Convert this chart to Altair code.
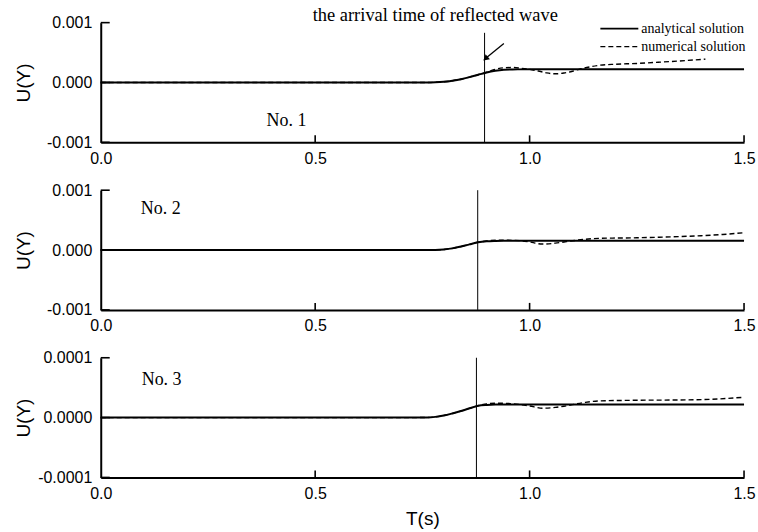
import altair as alt
import pandas as pd

# ---------------- data ----------------
# Panel No.1  (U values in units of 1e-4)
p1_ana_T = [0.0, 0.70, 0.76, 0.78, 0.80, 0.82, 0.84, 0.86, 0.88, 0.90, 0.92, 0.94, 0.96, 1.0, 1.5]
p1_ana_U = [0.0, 0.0, 0.0, 0.03, 0.12, 0.30, 0.55, 0.90, 1.30, 1.68, 1.95, 2.12, 2.18, 2.20, 2.20]
p1_num_T = [0.0, 0.76, 0.78, 0.80, 0.82, 0.84, 0.86, 0.88, 0.90, 0.92, 0.94, 0.96, 0.98, 1.00,
            1.02, 1.04, 1.06, 1.08, 1.10, 1.115, 1.14, 1.16, 1.20, 1.25, 1.30, 1.35, 1.41]
p1_num_U = [0.0, 0.0, 0.03, 0.12, 0.30, 0.55, 0.90, 1.30, 1.72, 2.20, 2.45, 2.50, 2.38, 2.20,
            1.92, 1.60, 1.45, 1.58, 1.88, 2.20, 2.60, 2.85, 3.05, 3.18, 3.38, 3.60, 3.90]

# Panel No.2  (U values in units of 1e-4)
p2_ana_T = [0.0, 0.74, 0.78, 0.80, 0.82, 0.84, 0.86, 0.88, 0.90, 0.92, 0.94, 1.0, 1.5]
p2_ana_U = [0.0, 0.0, 0.02, 0.10, 0.28, 0.58, 0.95, 1.30, 1.47, 1.53, 1.55, 1.55, 1.55]
p2_num_T = [0.0, 0.74, 0.78, 0.80, 0.82, 0.84, 0.86, 0.88, 0.90, 0.93, 0.96, 0.98, 1.00,
            1.03, 1.06, 1.08, 1.10, 1.13, 1.16, 1.25, 1.35, 1.40, 1.45, 1.50]
p2_num_U = [0.0, 0.0, 0.02, 0.10, 0.28, 0.58, 0.95, 1.30, 1.52, 1.65, 1.62, 1.55, 1.35,
            1.00, 1.15, 1.35, 1.55, 1.80, 1.95, 2.05, 2.25, 2.40, 2.60, 2.90]

# Panel No.3  (U values in units of 1e-5)
p3_ana_T = [0.0, 0.72, 0.76, 0.78, 0.80, 0.82, 0.84, 0.86, 0.88, 0.90, 0.92, 1.0, 1.5]
p3_ana_U = [0.0, 0.0, 0.02, 0.12, 0.35, 0.70, 1.10, 1.55, 1.98, 2.12, 2.17, 2.17, 2.17]
p3_num_T = [0.0, 0.72, 0.76, 0.78, 0.80, 0.82, 0.84, 0.86, 0.88, 0.90, 0.93, 0.96, 0.98,
            1.00, 1.03, 1.06, 1.08, 1.10, 1.13, 1.16, 1.25, 1.35, 1.42, 1.50]
p3_num_U = [0.0, 0.0, 0.02, 0.12, 0.35, 0.70, 1.10, 1.55, 1.98, 2.30, 2.40, 2.32, 2.17,
            1.95, 1.57, 1.70, 1.90, 2.17, 2.55, 2.78, 2.90, 2.95, 3.05, 3.40]

# arrival time of reflected wave (vertical line) per panel: T, top U (fraction of range)
vline_T = [0.895, 0.879, 0.876]
vline_top = [0.83, 1.0, 1.0]

panel_labels = ["No. 1", "No. 2", "No. 3"]
label_T = [0.433, 0.14, 0.142]
label_U = [-0.65, 0.68, 0.62]          # fraction of the axis range

y_ranges = [0.001, 0.001, 0.0001]
y_formats = [".3f", ".3f", ".4f"]
unit_scale = [1e-4, 1e-4, 1e-5]

x_ticks = [0.5, 1.0, 1.5]
x_labels = [0.0, 0.5, 1.0, 1.5]

annot_text = "the arrival time of reflected wave"
legend_names = ["analytical solution", "numerical solution"]

W, H = 645, 120
SANS = "Liberation Sans"
SERIF = "Liberation Serif"


def panel(i, ana_T, ana_U, num_T, num_U, show_xtitle):
    r = y_ranges[i]
    s = unit_scale[i]
    fmt = y_formats[i]
    xscale = alt.Scale(domain=[0, 1.5], nice=False, zero=False)
    yscale = alt.Scale(domain=[-r, r], nice=False, zero=False)

    xaxis_kw = dict(values=x_labels, format=".1f", labelFontSize=16, labelFont=SANS,
                    labelColor="black", labelPadding=8, ticks=False, grid=False,
                    domainColor="black", domainWidth=2, labelFlush=False)
    if show_xtitle:
        xaxis_kw.update(title="T(s)", titleFont=SANS, titleFontSize=19,
                        titleFontWeight="normal", titleColor="black", titlePadding=8)
    else:
        xaxis_kw.update(title=None)
    xaxis = alt.Axis(**xaxis_kw)
    lab_expr = ("datum.value < 0 ? '-' + format(-datum.value, '%s') : format(datum.value, '%s')"
                % (fmt, fmt))
    yaxis = alt.Axis(values=[-r, 0, r], labelExpr=lab_expr, labelFontSize=16, labelFont=SANS,
                     labelColor="black", labelPadding=9, ticks=False, grid=False,
                     domainColor="black", domainWidth=2, labelFlush=False,
                     title="U(Y)", titleFont=SANS, titleFontSize=19, titleFontWeight="normal",
                     titleColor="black", titleAngle=270, titleAlign="center",
                     titleBaseline="middle", titleX=-77, titleY=H / 2)

    ana = pd.DataFrame({"T": ana_T, "U": [v * s for v in ana_U]})
    num = pd.DataFrame({"T": num_T, "U": [v * s for v in num_U]})

    base_ana = alt.Chart(ana).mark_line(color="black", strokeWidth=2, interpolate="monotone").encode(
        x=alt.X("T:Q", scale=xscale, axis=xaxis),
        y=alt.Y("U:Q", scale=yscale, axis=yaxis),
    )
    line_num = alt.Chart(num).mark_line(color="black", strokeWidth=1.4, strokeDash=[5, 3],
                                        interpolate="monotone").encode(
        x=alt.X("T:Q", scale=xscale), y=alt.Y("U:Q", scale=yscale))

    vl = pd.DataFrame({"T": [vline_T[i]], "U1": [vline_top[i] * r], "U2": [-r]})
    vrule = alt.Chart(vl).mark_rule(color="black", strokeWidth=1).encode(
        x=alt.X("T:Q", scale=xscale), y=alt.Y("U1:Q", scale=yscale), y2="U2:Q")

    xt = pd.DataFrame({"T": x_ticks})
    xtick = alt.Chart(xt).mark_rule(color="black", strokeWidth=1.6).encode(
        x=alt.X("T:Q", scale=xscale), y=alt.value(H), y2=alt.value(H - 7))
    yt = pd.DataFrame({"U": [-r, 0, r]})
    ytick = alt.Chart(yt).mark_rule(color="black", strokeWidth=1.6).encode(
        y=alt.Y("U:Q", scale=yscale), x=alt.value(0), x2=alt.value(9))

    lab = pd.DataFrame({"T": [label_T[i]], "U": [label_U[i] * r], "txt": [panel_labels[i]]})
    labm = alt.Chart(lab).mark_text(font=SERIF, fontSize=18, color="black", align="center",
                                    baseline="middle").encode(
        x=alt.X("T:Q", scale=xscale), y=alt.Y("U:Q", scale=yscale), text="txt:N")

    layers = [vrule, line_num, base_ana, xtick, ytick, labm]

    if i == 0:
        # annotation text and arrow
        at = pd.DataFrame({"T": [0.78], "U": [1.13 * r], "txt": [annot_text]})
        layers.append(alt.Chart(at).mark_text(font=SERIF, fontSize=18.5, color="black",
                                              align="center", baseline="middle").encode(
            x=alt.X("T:Q", scale=xscale), y=alt.Y("U:Q", scale=yscale), text="txt:N"))
        arr = pd.DataFrame({"T1": [0.94], "U1": [0.65 * r], "T2": [0.897], "U2": [0.40 * r]})
        layers.append(alt.Chart(arr).mark_rule(color="black", strokeWidth=1.3).encode(
            x=alt.X("T1:Q", scale=xscale), y=alt.Y("U1:Q", scale=yscale), x2="T2:Q", y2="U2:Q"))
        head = pd.DataFrame({"T": [0.899], "U": [0.41 * r]})
        layers.append(alt.Chart(head).mark_point(shape="triangle", filled=True, color="black",
                                                 opacity=1, size=45, angle=230).encode(
            x=alt.X("T:Q", scale=xscale), y=alt.Y("U:Q", scale=yscale)))
        # legend
        lg = pd.DataFrame({"T1": [1.165, 1.165], "T2": [1.2535, 1.2535],
                           "U": [0.9 * r, 0.6 * r], "name": legend_names})
        layers.append(alt.Chart(lg.iloc[[0]]).mark_rule(color="black", strokeWidth=2).encode(
            x=alt.X("T1:Q", scale=xscale), x2="T2:Q", y=alt.Y("U:Q", scale=yscale)))
        layers.append(alt.Chart(lg.iloc[[1]]).mark_rule(color="black", strokeWidth=1.4,
                                                       strokeDash=[5, 3]).encode(
            x=alt.X("T1:Q", scale=xscale), x2="T2:Q", y=alt.Y("U:Q", scale=yscale)))
        layers.append(alt.Chart(lg).mark_text(font=SERIF, fontSize=14, color="black",
                                              align="left", baseline="middle", dx=3).encode(
            x=alt.X("T2:Q", scale=xscale), y=alt.Y("U:Q", scale=yscale), text="name:N"))

    return alt.layer(*layers).properties(width=W, height=H)


p1 = panel(0, p1_ana_T, p1_ana_U, p1_num_T, p1_num_U, False)
p2 = panel(1, p2_ana_T, p2_ana_U, p2_num_T, p2_num_U, False)
p3 = panel(2, p3_ana_T, p3_ana_U, p3_num_T, p3_num_U, True)

chart = alt.vconcat(p1, p2, p3, spacing=48, bounds="flush").properties(
    padding={"left": 15, "top": 5, "right": 2, "bottom": 3},
    background="white",
).configure_view(stroke=None)

chart.save("out.html", embed_options={"renderer": "svg", "actions": False})
